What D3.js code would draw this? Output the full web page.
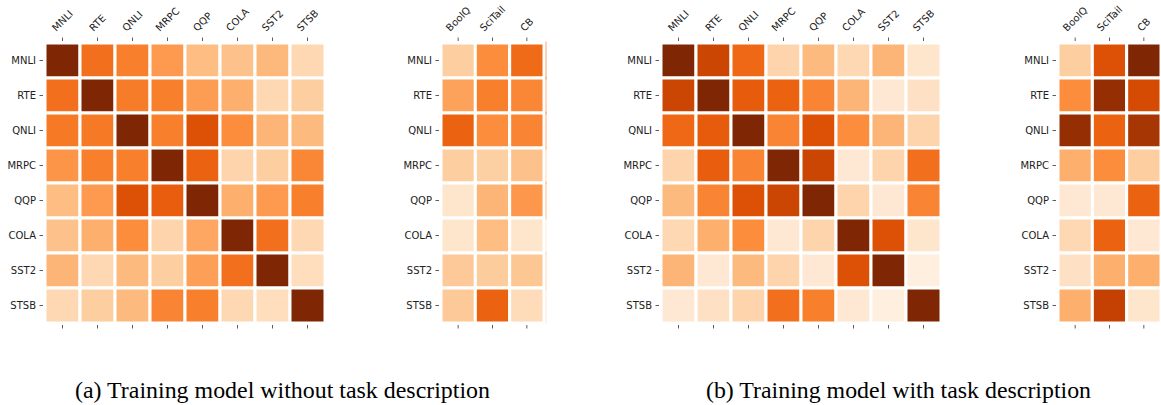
<!DOCTYPE html>
<html>
<head>
<meta charset="utf-8">
<script src="https://cdn.jsdelivr.net/npm/d3@7"></script>
<style>
  body { margin: 0; background: #fff; }
  svg { display: block; }
</style>
</head>
<body>
<svg id="chart" width="1161" height="405"></svg>
<script>
// GLUE tasks on both axes, extra tasks on the side panels
const GLUE_TASKS = ['MNLI', 'RTE', 'QNLI', 'MRPC', 'QQP', 'COLA', 'SST2', 'STSB'];
const EXTRA_TASKS = ['BoolQ', 'SciTail', 'CB'];

// (a) without task description, values on 0..1 (Oranges)
const glueNoDesc = [
  [1.00, 0.60, 0.55, 0.45, 0.32, 0.30, 0.34, 0.20],
  [0.60, 1.00, 0.56, 0.55, 0.44, 0.37, 0.20, 0.25],
  [0.57, 0.57, 1.00, 0.55, 0.72, 0.50, 0.35, 0.33],
  [0.47, 0.55, 0.55, 1.00, 0.65, 0.22, 0.25, 0.52],
  [0.32, 0.45, 0.72, 0.67, 1.00, 0.37, 0.45, 0.55],
  [0.30, 0.37, 0.50, 0.22, 0.40, 1.00, 0.60, 0.20],
  [0.35, 0.20, 0.33, 0.25, 0.43, 0.60, 1.00, 0.17],
  [0.20, 0.25, 0.33, 0.53, 0.55, 0.20, 0.17, 1.00],
];
const extraNoDesc = [
  [0.25, 0.50, 0.62],
  [0.42, 0.55, 0.52],
  [0.65, 0.50, 0.53],
  [0.25, 0.24, 0.30],
  [0.12, 0.35, 0.46],
  [0.12, 0.32, 0.12],
  [0.27, 0.26, 0.28],
  [0.27, 0.65, 0.18],
];

// (b) with task description
const glueDesc = [
  [1.00, 0.78, 0.63, 0.22, 0.33, 0.20, 0.35, 0.12],
  [0.78, 1.00, 0.68, 0.65, 0.53, 0.35, 0.10, 0.15],
  [0.63, 0.68, 1.00, 0.53, 0.72, 0.50, 0.35, 0.22],
  [0.22, 0.67, 0.53, 1.00, 0.78, 0.10, 0.22, 0.60],
  [0.33, 0.53, 0.72, 0.78, 1.00, 0.22, 0.10, 0.53],
  [0.20, 0.37, 0.50, 0.10, 0.22, 1.00, 0.72, 0.12],
  [0.35, 0.10, 0.33, 0.22, 0.10, 0.72, 1.00, 0.05],
  [0.10, 0.15, 0.22, 0.60, 0.55, 0.10, 0.05, 1.00],
];
const extraDesc = [
  [0.25, 0.72, 1.00],
  [0.50, 0.93, 0.75],
  [0.93, 0.65, 0.88],
  [0.37, 0.50, 0.25],
  [0.10, 0.10, 0.65],
  [0.20, 0.65, 0.10],
  [0.15, 0.37, 0.37],
  [0.37, 0.80, 0.12],
];

const CAPTIONS = [
  '(a) Training model without task description',
  '(b) Training model with task description',
];

const svg = d3.select('#chart');
const color = d3.scaleSequential([0, 1], d3.interpolateOranges);
const gridTop = 43, gridBottom = 323;
const labelSize = 10;

function heatmap(matrix, cols, x0, x1, edgeSliver) {
  const x = d3.scaleBand(cols, [x0, x1]);
  const y = d3.scaleBand(GLUE_TASKS, [gridTop, gridBottom]);
  const g = svg.append('g');

  const cells = matrix.flatMap((row, i) =>
    row.map((v, j) => ({ row: GLUE_TASKS[i], col: cols[j], v })));

  g.selectAll('rect.cell')
    .data(cells)
    .join('rect')
      .attr('class', 'cell')
      .attr('x', (d) => x(d.col))
      .attr('y', (d) => y(d.row))
      .attr('width', x.bandwidth())
      .attr('height', y.bandwidth())
      .attr('fill', (d) => color(d.v))
      .attr('stroke', '#fff')
      .attr('stroke-width', 3);

  // thin coloured edge left visible past the white grid on the right side
  if (edgeSliver) {
    const last = cols[cols.length - 1];
    g.selectAll('rect.edge')
      .data(cells.filter((d) => d.col === last))
      .join('rect')
        .attr('class', 'edge')
        .attr('x', x(last) + x.bandwidth() + 1.5)
        .attr('y', (d) => y(d.row) - 1.5)
        .attr('width', 1)
        .attr('height', y.bandwidth() + 3)
        .attr('fill', (d) => color(d.v))
        .attr('opacity', 0.6);
  }

  // left axis with labels
  g.append('g')
    .attr('transform', `translate(${x0 - 2},0)`)
    .call(d3.axisLeft(y).tickSize(3.5).tickPadding(3.5))
    .call((a) => a.select('.domain').remove())
    .call((a) => a.selectAll('line').attr('stroke', '#333').attr('stroke-width', 0.8))
    .call((a) => a.selectAll('text')
      .attr('fill', '#222')
      .style('font-family', 'DejaVu Sans, sans-serif')
      .style('font-size', labelSize + 'px'));

  // bottom ticks, no labels
  g.append('g')
    .attr('transform', `translate(0,${gridBottom + 2})`)
    .call(d3.axisBottom(x).tickSize(3.5).tickFormat(''))
    .call((a) => a.select('.domain').remove())
    .call((a) => a.selectAll('line').attr('stroke', '#333').attr('stroke-width', 0.8));

  // top ticks with rotated labels
  const ax = g.append('g')
    .attr('transform', `translate(0,${gridTop - 2})`)
    .call(d3.axisTop(x).tickSize(3.5).tickFormat(''))
    .call((a) => a.select('.domain').remove())
    .call((a) => a.selectAll('line').attr('stroke', '#333').attr('stroke-width', 0.8));

  ax.selectAll('.tick').append('text')
    .text((d) => d)
    .attr('fill', '#222')
    .attr('text-anchor', 'middle')
    .attr('dominant-baseline', 'central')
    .style('font-family', 'DejaVu Sans, sans-serif')
    .style('font-size', labelSize + 'px')
    .attr('transform', function () {
      const w = this.getComputedTextLength();
      const half = (w + labelSize) * Math.SQRT1_2 / 2;
      return `translate(0,${-8 - half}) rotate(-45)`;
    });
}

heatmap(glueNoDesc, GLUE_TASKS, 45, 325, false);
heatmap(extraNoDesc, EXTRA_TASKS, 441, 544, true);
heatmap(glueDesc, GLUE_TASKS, 661, 941, false);
heatmap(extraDesc, EXTRA_TASKS, 1058, 1161, false);

svg.selectAll('text.caption')
  .data(CAPTIONS)
  .join('text')
    .attr('class', 'caption')
    .attr('x', (d, i) => [75, 706][i])
    .attr('y', 398)
    .attr('textLength', (d, i) => [415, 385][i])
    .attr('lengthAdjust', 'spacingAndGlyphs')
    .attr('fill', '#000')
    .style('font-family', "'Liberation Serif', 'Times New Roman', Times, serif")
    .style('font-size', '23px')
    .text((d) => d);
</script>
</body>
</html>
